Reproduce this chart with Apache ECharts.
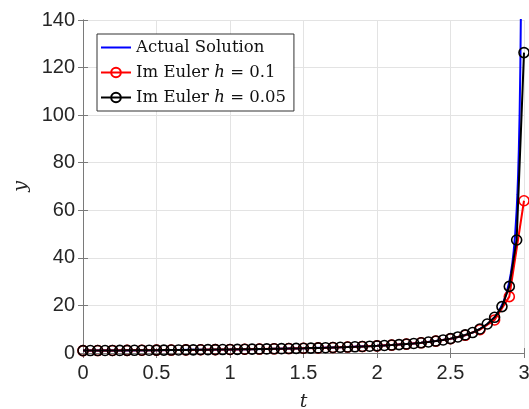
<!DOCTYPE html>
<html>
<head>
<meta charset="utf-8">
<script src="https://cdn.jsdelivr.net/npm/echarts@6/dist/echarts.min.js"></script>
<style>
  html, body { margin: 0; padding: 0; background: #fff; }
  #chart { width: 529px; height: 409px; }
</style>
</head>
<body>
<div id="chart"></div>
<script>
// actual solution, sampled
const tActual = [0, 0.25, 0.5, 0.75, 1, 1.25, 1.5, 1.75, 2, 2.1, 2.2, 2.3, 2.4, 2.5, 2.55, 2.6, 2.65, 2.7, 2.75, 2.8,
  2.83, 2.86, 2.88, 2.9, 2.91, 2.92, 2.93, 2.94, 2.95, 2.955, 2.96, 2.965, 2.97, 2.975, 2.98, 2.985];
const yActual = [1, 1.091, 1.2, 1.333, 1.5, 1.714, 2, 2.4, 3, 3.333, 3.75, 4.286, 5, 6, 6.667, 7.5, 8.571, 10, 12, 15,
  17.65, 21.43, 25, 30, 33.33, 37.5, 42.86, 50, 60, 66.67, 75, 85.71, 100, 120, 150, 200];

// implicit euler h = 0.1  (t = 0, 0.1, ..., 3)
const yEuler01 = [1, 1.03, 1.07, 1.11, 1.15, 1.2, 1.25, 1.3, 1.36, 1.43, 1.5, 1.58, 1.67, 1.76, 1.87, 2.0,
  2.14, 2.3, 2.5, 2.72, 3.0, 3.33, 3.75, 4.28, 4.99, 6.0, 7.45, 9.8, 13.9, 23.7, 64];

// implicit euler h = 0.05  (t = 0, 0.05, ..., 3)
const yEuler005 = [1, 1.02, 1.03, 1.05, 1.07, 1.09, 1.11, 1.13, 1.15, 1.18, 1.2, 1.22, 1.25, 1.28, 1.3, 1.33,
  1.36, 1.4, 1.43, 1.46, 1.5, 1.54, 1.58, 1.62, 1.67, 1.72, 1.77, 1.82, 1.88, 1.94, 2.0, 2.07, 2.14, 2.22,
  2.31, 2.4, 2.5, 2.61, 2.73, 2.86, 3.0, 3.16, 3.34, 3.53, 3.76, 4.01, 4.29, 4.63, 5.02, 5.48, 6.04, 6.75,
  7.6, 8.6, 10.1, 12.2, 15.0, 19.5, 28.0, 47.5, 126.3];

const xTicks = [0, 0.5, 1, 1.5, 2, 2.5, 3];
const yTicks = [0, 20, 40, 60, 80, 100, 120, 140];

const pairs = (ts, ys) => ys.map((y, i) => [ts[i], y]);
const stepT = (h, n) => Array.from({ length: n }, (_, i) => +(i * h).toFixed(3));

const chart = echarts.init(document.getElementById('chart'));

const tickFont = { fontFamily: 'Liberation Sans', fontSize: 20, color: '#262626' };
const gridLine = { show: true, lineStyle: { color: '#e3e3e3', width: 1 } };
const frameLine = { show: true, lineStyle: { color: '#7a7a7a', width: 1 } };
// plain line icon for the legend (corner specks keep the box 30x12)
const lineIcon = 'path://M0,5.1L30,5.1L30,6.9L0,6.9Z M0,0L0.01,0L0.01,0.01Z M29.99,11.99L30,11.99L30,12Z';

const opt = {
  animation: false,
  backgroundColor: '#fff',
  grid: { left: 83, right: 5, top: 20, bottom: 56, containLabel: false, outerBoundsMode: 'none' },
  legend: {
    orient: 'vertical',
    left: 97,
    top: 34,
    backgroundColor: '#fff',
    borderColor: '#333',
    borderWidth: 1,
    borderRadius: 0,
    padding: [5, 8, 5, 3],
    itemWidth: 30,
    itemHeight: 12,
    itemGap: 8,
    textStyle: {
      fontFamily: 'DejaVu Serif',
      fontSize: 16.5,
      color: '#111',
      rich: {
        a: { fontFamily: 'DejaVu Serif', fontSize: 16.5, color: '#111' },
        i: { fontFamily: 'DejaVu Serif', fontStyle: 'italic', fontSize: 16.5, color: '#111' }
      }
    },
    formatter: (name) => {
      if (name === 'Actual Solution') return '{a|Actual Solution}';
      const m = name.split('h');
      return '{a|' + m[0] + '}{i|h}{a|' + m[1] + '}';
    },
    data: [
      { name: 'Actual Solution', icon: lineIcon, itemStyle: { color: '#0000ff' } },
      'Im Euler h = 0.1',
      'Im Euler h = 0.05'
    ]
  },
  xAxis: [
    {
      type: 'value',
      min: 0, max: 3, interval: 0.5,
      name: 't',
      nameLocation: 'middle',
      nameGap: 40,
      nameTextStyle: { fontFamily: 'DejaVu Serif', fontStyle: 'italic', fontSize: 19, color: '#262626' },
      axisLine: frameLine,
      axisTick: { show: true, inside: true, length: 5, lineStyle: { color: '#7a7a7a' } },
      axisLabel: Object.assign({ margin: 10, formatter: (v) => String(v) }, tickFont),
      splitLine: gridLine
    },
    {
      type: 'value', position: 'top',
      min: 0, max: 3, interval: 0.5,
      axisLine: frameLine,
      axisTick: { show: true, inside: true, length: 5, lineStyle: { color: '#7a7a7a' } },
      axisLabel: { show: false },
      splitLine: { show: false }
    }
  ],
  yAxis: [
    {
      type: 'value',
      min: 0, max: 140, interval: 20,
      name: 'y',
      nameLocation: 'middle',
      nameRotate: 90,
      nameGap: 50,
      nameTextStyle: { fontFamily: 'DejaVu Serif', fontStyle: 'italic', fontSize: 19, color: '#262626' },
      axisLine: frameLine,
      axisTick: { show: true, inside: true, length: 5, lineStyle: { color: '#7a7a7a' } },
      axisLabel: Object.assign({ margin: 8 }, tickFont),
      splitLine: gridLine
    },
    {
      type: 'value', position: 'right',
      min: 0, max: 140, interval: 20,
      axisLine: frameLine,
      axisTick: { show: true, inside: true, length: 5, lineStyle: { color: '#7a7a7a' } },
      axisLabel: { show: false },
      splitLine: { show: false }
    }
  ],
  series: [
    {
      name: 'Actual Solution',
      type: 'line',
      data: pairs(tActual, yActual),
      showSymbol: false,
      symbol: 'none',
      lineStyle: { color: '#0000ff', width: 2 },
      itemStyle: { color: '#0000ff' },
      clip: true,
      z: 2
    },
    {
      name: 'Im Euler h = 0.1',
      type: 'line',
      data: pairs(stepT(0.1, yEuler01.length), yEuler01),
      symbol: 'circle',
      symbolSize: 10,
      lineStyle: { color: '#ff0000', width: 2 },
      itemStyle: { color: 'rgba(255,255,255,0)', borderColor: '#ff0000', borderWidth: 1.6 },
      clip: true,
      z: 3
    },
    {
      name: 'Im Euler h = 0.05',
      type: 'line',
      data: pairs(stepT(0.05, yEuler005.length), yEuler005),
      symbol: 'circle',
      symbolSize: 10,
      lineStyle: { color: '#000000', width: 2 },
      itemStyle: { color: 'rgba(255,255,255,0)', borderColor: '#000000', borderWidth: 1.6 },
      clip: false,
      z: 4
    }
  ]
};

chart.setOption(opt);
</script>
</body>
</html>
